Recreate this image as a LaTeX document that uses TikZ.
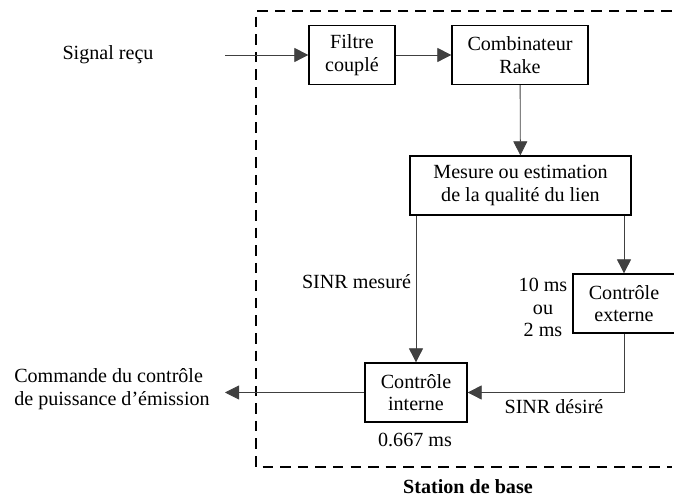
\documentclass[tikz,border=0pt]{standalone}
\usepackage{fontspec}
\setmainfont{Liberation Serif}
\usetikzlibrary{arrows.meta}
\begin{document}
\begin{tikzpicture}[font=\fontsize{14.3}{16.2}\selectfont,
    bloc/.style={draw,line width=0.9pt,align=center,minimum height=1.475cm,inner sep=0pt},
    fleche/.style={-{Triangle[length=10pt,width=10pt]},line width=0.6pt,black!75},
    etiq/.style={align=center,inner sep=0pt}]
        \useasboundingbox (0,0) rectangle (16.85,12.475);
        \draw[dash pattern=on 7.5pt off 5pt,line width=0.75pt](16.8,12.2)--(6.4,12.2)--(6.4,0.8)--(16.8,0.8);
        \node[etiq,font=\fontsize{14.3}{16.2}\selectfont\bfseries](station) at (11.7,0.3){Station de base};
        \node[bloc,minimum width=2.15cm](filtre) at (8.8,11.1){Filtre\\couplé};
        \node[bloc,minimum width=3.4cm](rake) at (13.0,11.1){Combinateur\\Rake};
        \node[bloc,minimum width=5.525cm](mesure) at (13.0125,7.8375){Mesure ou estimation\\de la qualité du lien};
        \node[bloc,minimum width=2.55cm](externe) at (15.6,4.8875){Contrôle\\externe};
        \node[bloc,minimum width=2.55cm](interne) at (10.4,2.6625){Contrôle\\interne};
        \coordinate (entree) at (5.625,11.1);
        \coordinate (sortie) at (5.625,2.6625);
        \node[etiq](signal) at (2.7,11.1){Signal reçu};
        \node[etiq,align=left,anchor=west](commande) at (0.35,2.7375){Commande du contrôle\\de puissance d’émission};
        \node[etiq](mesureSINR) at (8.9125,5.425){SINR mesuré};
        \node[etiq,font=\fontsize{14.3}{16}\selectfont](periode) at (13.575,4.7875){10 ms\\ou\\2 ms};
        \node[etiq](desire) at (13.85,2.3){SINR désiré};
        \node[etiq](cadence) at (10.375,1.475){0.667 ms};
        % chaine de reception
        \draw[fleche](entree)--(filtre);
        \draw[fleche](filtre)--(rake);
        \draw[fleche](rake)--(mesure);
        % boucles de controle
        \draw[fleche](mesure.south -| interne)--(interne.north);
        \draw[fleche](mesure.south -| externe)--(externe.north);
        \draw[fleche](externe.south)|-(interne.east);
        \draw[fleche](interne)--(sortie);
    \end{tikzpicture}
\end{document}
